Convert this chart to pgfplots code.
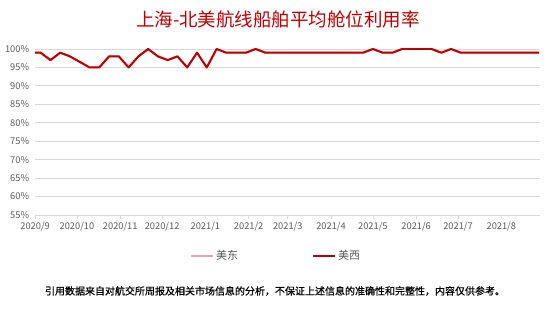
\documentclass[border=0pt]{standalone}
\usepackage{pgfplots}
\pgfplotsset{compat=1.18}
\usepackage{fontspec}
\setmainfont{Noto Sans CJK SC}
\newfontfamily\footfont{Noto Sans CJK SC}[FakeBold=0.6]
\definecolor{dred}{HTML}{C00000}
\definecolor{lpink}{HTML}{F4A3A3}
\definecolor{gridc}{HTML}{D9D9D9}
\definecolor{tickc}{HTML}{595959}
\begin{document}
\begin{tikzpicture}
\path[use as bounding box] (0,0) rectangle (554pt,310pt);
\node[text=dred, font=\fontsize{18.5}{20}\selectfont] at (278pt,291pt) {上海-北美航线船舶平均舱位利用率};
\node[text=black, font=\footfont\fontsize{10}{12}\selectfont] at (275pt,19pt) {引用数据来自对航交所周报及相关市场信息的分析，不保证上述信息的准确性和完整性，内容仅供参考。};
\begin{axis}[
  at={(35.1pt,95pt)}, anchor=south west,
  scale only axis, width=505.3pt, height=166pt,
  xmin=0, xmax=362, ymin=55, ymax=100,
  axis x line*=bottom, axis y line*=left,
  x axis line style={draw=gridc, line width=0.8pt, -},
  y axis line style={draw=none},
  xtick={0,30,61,91,122,153,181,212,242,273,303,334},
  xticklabels={2020/9,2020/10,2020/11,2020/12,2021/1,2021/2,2021/3,2021/4,2021/5,2021/6,2021/7,2021/8},
  ytick={55,60,...,100},
  yticklabel={\pgfmathprintnumber{\tick}\%},
  /pgf/number format/assume math mode=true,
  tick label style={text=tickc, font=\fontsize{9.3}{10}\selectfont},
  x tick label style={yshift=0pt},
  y tick label style={xshift=1.5pt},
  tick align=outside,
  major tick length=4pt,
  xtick style={draw=gridc, line width=0.8pt},
  ytick style={draw=none},
  ymajorgrids, grid style={draw=gridc, line width=0.8pt},
  legend columns=2,
  legend style={at={(0.477,-0.247)}, anchor=center, draw=none, fill=none,
    font=\fontsize{11}{13}\selectfont, text=tickc,
    /tikz/every even column/.append style={column sep=72pt}},
  legend image code/.code={\draw[#1] (0pt,0pt) -- (22pt,0pt);},
]
\addplot[lpink, line width=2pt, line join=round] coordinates {
(0,99)(4,99)(11,97)(18,99)(25,98)(32,96.5)(39,95)(46,95)(53,98)(60,98)(67,95)(74,98)(81,100)(88,98)(95,97)(102,98)(109,95)(116,99)(123,95)(130,100)(137,99)(144,99)(151,99)(158,100)(165,99)(172,99)(179,99)(186,99)(193,99)(200,99)(207,99)(214,99)(221,99)(228,99)(235,99)(242,100)(249,99)(256,99)(263,100)(270,100)(277,100)(284,100)(291,99)(298,100)(305,99)(312,99)(319,99)(326,99)(333,99)(340,99)(347,99)(354,99)(361,99)
};
\addlegendentry{美东}
\addplot[dred, line width=2pt, line join=round] coordinates {
(0,99)(4,99)(11,97)(18,99)(25,98)(32,96.5)(39,95)(46,95)(53,98)(60,98)(67,95)(74,98)(81,100)(88,98)(95,97)(102,98)(109,95)(116,99)(123,95)(130,100)(137,99)(144,99)(151,99)(158,100)(165,99)(172,99)(179,99)(186,99)(193,99)(200,99)(207,99)(214,99)(221,99)(228,99)(235,99)(242,100)(249,99)(256,99)(263,100)(270,100)(277,100)(284,100)(291,99)(298,100)(305,99)(312,99)(319,99)(326,99)(333,99)(340,99)(347,99)(354,99)(361,99)
};
\addlegendentry{美西}
\end{axis}
\end{tikzpicture}
\end{document}
